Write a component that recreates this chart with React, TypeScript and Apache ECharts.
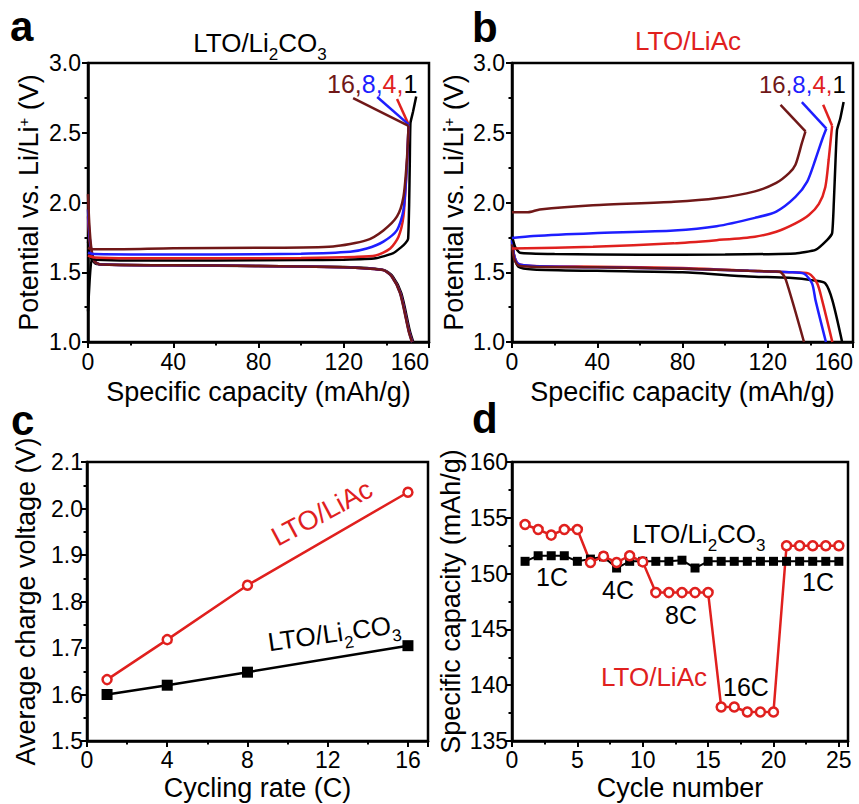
import React, { useEffect, useRef } from 'react';
import * as echarts from 'echarts';

const FONT = '"Liberation Sans", Arial, Helvetica, sans-serif';
const BLACK = '#000000';
const RED = '#e0201e';
const BLUE = '#1e1eff';
const DARK = '#701818';

// ---------- Panel a : LTO/Li2CO3 charge / discharge (x: mAh/g, y: V) ----------
const aCharge1C = [[0, 1.22], [0.8, 1.45], [1.8, 1.6], [4, 1.59], [20, 1.585], [60, 1.585], [100, 1.587], [120, 1.59], [135, 1.6], [143, 1.635], [147, 1.68], [149, 1.71], [150.2, 1.74], [150.7, 2.0], [151, 2.3], [151.3, 2.57], [152.5, 2.65], [154, 2.76]];
const aCharge4C = [[0, 1.62], [3, 1.605], [20, 1.6], [60, 1.6], [100, 1.603], [125, 1.61], [135, 1.62], [141.8, 1.67], [145.7, 1.755], [148, 1.9], [149.6, 2.26], [150.4, 2.55]];
const aCharge8C = [[0, 1.64], [3, 1.63], [20, 1.628], [60, 1.628], [100, 1.633], [123, 1.647], [130.8, 1.67], [138.6, 1.72], [144.9, 1.8], [148, 1.945], [149.6, 2.26], [150.4, 2.56]];
const aCharge16C = [[0, 1.675], [2, 1.665], [10, 1.665], [40, 1.672], [80, 1.675], [115, 1.685], [130.8, 1.73], [138.6, 1.8], [145, 1.9], [148, 2.04], [149.6, 2.3], [150.4, 2.55]];
const aLead4C = [[150.4, 2.56], [145, 2.742]];
const aLead8C = [[150.4, 2.56], [135.7, 2.756]];
const aLead16C = [[150.4, 2.55], [124.4, 2.749]];
const aDisch1C = [[0, 1.72], [1.5, 1.6], [4, 1.56], [40, 1.55], [80, 1.545], [120, 1.537], [131, 1.53], [139, 1.515], [143, 1.47], [147, 1.35], [151, 1.08], [152.6, 1.0]];
const aDisch4C = [[0, 1.9], [1, 1.7], [3, 1.58], [6, 1.555], [40, 1.55], [80, 1.545], [120, 1.535], [131, 1.527], [138.6, 1.515], [142.6, 1.47], [146.6, 1.35], [150.6, 1.08], [152.2, 1.0]];
const aDisch8C = [[0, 1.95], [1, 1.72], [3, 1.58], [6, 1.555], [40, 1.55], [80, 1.545], [120, 1.535], [131, 1.527], [138.6, 1.515], [142.5, 1.47], [146.5, 1.35], [150.5, 1.08], [152.1, 1.0]];
const aDisch16C = [[0, 2.06], [0.6, 1.85], [1.5, 1.68], [3, 1.58], [6, 1.555], [40, 1.55], [80, 1.545], [120, 1.535], [131, 1.527], [138.6, 1.515], [142.5, 1.47], [146.4, 1.35], [150.4, 1.08], [152, 1.0]];

// ---------- Panel b : LTO/LiAc charge / discharge ----------
const bCharge1C = [[0, 1.76], [1.5, 1.68], [3.7, 1.64], [20, 1.63], [60, 1.625], [100, 1.627], [133, 1.635], [142.4, 1.66], [147.8, 1.73], [150.2, 1.78], [151, 2.0], [151.8, 2.3], [152.5, 2.52], [154, 2.6], [155.6, 2.72]];
const bCharge4C = [[0, 1.67], [38, 1.683], [76, 1.707], [96, 1.73], [114, 1.755], [124, 1.79], [133, 1.85], [139.3, 1.91], [144, 1.99], [147, 2.11], [148.6, 2.31], [150.2, 2.55]];
const bCharge8C = [[0, 1.745], [10, 1.76], [38, 1.78], [76, 1.8], [96, 1.83], [114, 1.89], [124, 1.935], [133, 2.04], [138.5, 2.15], [142.4, 2.31], [145.5, 2.45], [147.5, 2.53]];
const bCharge16C = [[0, 1.93], [7.5, 1.93], [13, 1.95], [38, 1.98], [76, 2.005], [96, 2.03], [114, 2.08], [124, 2.14], [130, 2.21], [133, 2.27], [136, 2.425], [137.7, 2.51]];
const bLead4C = [[150.2, 2.55], [146, 2.7]];
const bLead8C = [[147.5, 2.53], [136, 2.72]];
const bLead16C = [[137.7, 2.51], [126, 2.7]];
const bDisch1C = [[0, 1.76], [1, 1.62], [3, 1.54], [10, 1.52], [40, 1.51], [80, 1.5], [111, 1.47], [130, 1.46], [142, 1.44], [147, 1.42], [150.3, 1.3], [154.9, 1.0]];
const bDisch4C = [[0, 1.72], [1, 1.62], [3, 1.56], [10, 1.545], [40, 1.54], [80, 1.53], [111, 1.51], [130, 1.5], [139.3, 1.49], [143.2, 1.42], [145.5, 1.3], [150.3, 1.0]];
const bDisch8C = [[0, 1.73], [1, 1.62], [3, 1.56], [10, 1.545], [40, 1.535], [80, 1.525], [111, 1.51], [130, 1.5], [137, 1.49], [140.8, 1.42], [142.4, 1.3], [147.3, 1.0]];
const bDisch16C = [[0, 1.7], [1, 1.6], [3, 1.55], [10, 1.54], [40, 1.535], [80, 1.525], [111, 1.51], [124, 1.505], [126.2, 1.5], [128.5, 1.445], [137, 1.0]];

// ---------- Panel c : average charge voltage vs rate ----------
const cRates = [1, 4, 8, 16];
const cLiAc = [1.632, 1.718, 1.835, 2.035];
const cLi2CO3 = [1.6, 1.62, 1.648, 1.705];

// ---------- Panel d : capacity vs cycle ----------
const dCycles = [1, 2, 3, 4, 5, 6, 7, 8, 9, 10, 11, 12, 13, 14, 15, 16, 17, 18, 19, 20, 21, 22, 23, 24, 25];
const dLi2CO3 = [151.1, 151.6, 151.6, 151.6, 151.1, 151.3, 151.5, 150.5, 151.1, 151.1, 151.1, 151.1, 151.2, 150.5, 151.1, 151.1, 151.1, 151.1, 151.1, 151.1, 151.1, 151.1, 151.1, 151.1, 151.1];
const dLiAc = [154.4, 153.95, 153.45, 153.95, 153.95, 151.0, 151.55, 151.0, 151.6, 151.05, 148.3, 148.3, 148.3, 148.3, 148.3, 138.05, 138.05, 137.6, 137.6, 137.6, 152.5, 152.5, 152.5, 152.5, 152.5];

const zip = (xs: number[], ys: number[]) => xs.map((x, i) => [x, ys[i]]);

function axis(gridIndex: number, min: number, max: number, interval: number, name: any, nameGap: number, margin: number, isY: boolean, digits: number, rich?: any) {
  return {
    type: 'value',
    gridIndex,
    min,
    max,
    interval,
    name,
    nameLocation: 'middle',
    nameGap,
    nameMoveOverlap: false,
    nameTextStyle: { fontSize: 27, fontFamily: FONT, color: BLACK, rich },
    axisLine: { show: true, onZero: false, lineStyle: { color: BLACK, width: 2.5 } },
    axisTick: { show: true, inside: false, length: 6, lineStyle: { color: BLACK, width: 2 } },
    minorTick: { show: true, splitNumber: 2, length: 3.5, lineStyle: { color: BLACK, width: 2 } },
    axisLabel: {
      fontSize: 23,
      fontFamily: FONT,
      color: BLACK,
      margin,
      showMaxLabel: isY ? true : (max % interval === 0),
      alignMaxLabel: (!isY && max % interval === 0) ? 'right' : undefined,
      hideOverlap: false,
      formatter: (v: number) => v.toFixed(digits),
    },
    splitLine: { show: false },
    minorSplitLine: { show: false },
  };
}

const supRich = {
  n: { fontSize: 27, lineHeight: 27, fontFamily: FONT, color: BLACK, verticalAlign: 'top' },
  s: { fontSize: 15, lineHeight: 15, fontFamily: FONT, color: BLACK, verticalAlign: 'top', padding: [1, 0, 0, 0] },
};

function curve(xi: number, data: number[][], color: string, smooth: any = 0.25) {
  return {
    type: 'line',
    xAxisIndex: xi,
    yAxisIndex: xi,
    data,
    showSymbol: false,
    symbol: 'none',
    smooth,
    lineStyle: { color, width: 2.5 },
    itemStyle: { color },
    silent: true,
  };
}

function subText(mainSize: number, subSize: number, color: string) {
  return {
    m: { fontSize: mainSize, lineHeight: mainSize, fontFamily: FONT, fill: color, color, verticalAlign: 'top' },
    s: { fontSize: subSize, lineHeight: subSize, fontFamily: FONT, fill: color, color, verticalAlign: 'top', padding: [16, 0, 0, 0] },
  };
}

export default function App() {
  const ref = useRef<HTMLDivElement>(null);
  useEffect(() => {
    if (!ref.current) return;
    const chart = echarts.init(ref.current, undefined, { renderer: 'svg' });
    const gridBase = { show: true, borderColor: BLACK, borderWidth: 2.5, containLabel: false, outerBoundsMode: 'none', backgroundColor: 'transparent' };
    const option: any = {
      animation: false,
      backgroundColor: '#ffffff',
      grid: [
        { ...gridBase, left: 88, top: 63, width: 341, height: 279 },
        { ...gridBase, left: 512, top: 63, width: 341, height: 279 },
        { ...gridBase, left: 87, top: 462, width: 341, height: 279 },
        { ...gridBase, left: 512, top: 462, width: 336, height: 279 },
      ],
      xAxis: [
        axis(0, 0, 160, 40, 'Specific capacity (mAh/g)', 36, 8, false, 0),
        axis(1, 0, 160, 40, 'Specific capacity (mAh/g)', 36, 8, false, 0),
        axis(2, 0, 17, 4, 'Cycling rate (C)', 33, 7, false, 0),
        axis(3, 0, 25.7, 5, 'Cycle number', 33, 7, false, 0),
      ],
      yAxis: [
        axis(0, 1.0, 3.0, 0.5, '{n|Potential vs. Li/Li}{s|+}{n| (V)}', 46, 7, true, 1, supRich),
        axis(1, 1.0, 3.0, 0.5, '{n|Potential vs. Li/Li}{s|+}{n| (V)}', 45, 7, true, 1, supRich),
        axis(2, 1.5, 2.1, 0.1, 'Average charge voltage (V)', 48, 4, true, 1),
        axis(3, 135, 160, 5, 'Specific capacity (mAh/g)', 48, 4, true, 0),
      ],
      series: [
        // panel a
        curve(0, aDisch1C, BLACK),
        curve(0, aDisch4C, RED),
        curve(0, aDisch8C, BLUE),
        curve(0, aDisch16C, DARK),
        curve(0, aCharge1C, BLACK, 0.15),
        curve(0, aCharge4C, RED),
        curve(0, aCharge8C, BLUE),
        curve(0, aCharge16C, DARK),
        curve(0, aLead4C, RED, false),
        curve(0, aLead8C, BLUE, false),
        curve(0, aLead16C, DARK, false),
        // panel b
        curve(1, bDisch1C, BLACK),
        curve(1, bDisch4C, RED),
        curve(1, bDisch8C, BLUE),
        curve(1, bDisch16C, DARK),
        curve(1, bCharge1C, BLACK, 0.15),
        curve(1, bCharge4C, RED),
        curve(1, bCharge8C, BLUE),
        curve(1, bCharge16C, DARK),
        curve(1, bLead4C, RED, false),
        curve(1, bLead8C, BLUE, false),
        curve(1, bLead16C, DARK, false),
        // panel c
        {
          type: 'line', xAxisIndex: 2, yAxisIndex: 2, data: zip(cRates, cLi2CO3),
          symbol: 'rect', symbolSize: 11, lineStyle: { color: BLACK, width: 2.5 }, itemStyle: { color: BLACK },
        },
        {
          type: 'line', xAxisIndex: 2, yAxisIndex: 2, data: zip(cRates, cLiAc),
          symbol: 'circle', symbolSize: 9, lineStyle: { color: RED, width: 2.5 },
          itemStyle: { color: '#ffffff', borderColor: RED, borderWidth: 2.5 },
        },
        // panel d
        {
          type: 'line', xAxisIndex: 3, yAxisIndex: 3, data: zip(dCycles, dLi2CO3),
          symbol: 'rect', symbolSize: 9, lineStyle: { color: BLACK, width: 2 }, itemStyle: { color: BLACK },
        },
        {
          type: 'line', xAxisIndex: 3, yAxisIndex: 3, data: zip(dCycles, dLiAc),
          symbol: 'circle', symbolSize: 9, lineStyle: { color: RED, width: 2.5 },
          itemStyle: { color: '#ffffff', borderColor: RED, borderWidth: 2.5 },
        },
      ],
      graphic: [
        { type: 'text', x: 10, y: 26, style: { text: 'a', fontSize: 42, fontWeight: 'bold', fontFamily: FONT, fill: BLACK, align: 'left', verticalAlign: 'middle' } },
        { type: 'text', x: 472, y: 27, style: { text: 'b', fontSize: 42, fontWeight: 'bold', fontFamily: FONT, fill: BLACK, align: 'left', verticalAlign: 'middle' } },
        { type: 'text', x: 11, y: 420, style: { text: 'c', fontSize: 42, fontWeight: 'bold', fontFamily: FONT, fill: BLACK, align: 'left', verticalAlign: 'middle' } },
        { type: 'text', x: 472, y: 418, style: { text: 'd', fontSize: 42, fontWeight: 'bold', fontFamily: FONT, fill: BLACK, align: 'left', verticalAlign: 'middle' } },
        // panel titles
        { type: 'text', x: 260, y: 29.5, style: { text: '{m|LTO/Li}{s|2}{m|CO}{s|3}', rich: subText(26, 17, BLACK), align: 'center', verticalAlign: 'top' } },
        { type: 'text', x: 688, y: 41, style: { text: 'LTO/LiAc', fontSize: 26, fontFamily: FONT, fill: RED, align: 'center', verticalAlign: 'middle' } },
        // rate labels
        {
          type: 'text', x: 327, y: 84,
          style: {
            text: '{d|16,}{b|8,}{r|4,}{k|1}', align: 'left', verticalAlign: 'middle',
            rich: {
              d: { fontSize: 25, fontFamily: FONT, fill: DARK, color: DARK },
              b: { fontSize: 25, fontFamily: FONT, fill: BLUE, color: BLUE },
              r: { fontSize: 25, fontFamily: FONT, fill: RED, color: RED },
              k: { fontSize: 25, fontFamily: FONT, fill: BLACK, color: BLACK },
            },
          },
        },
        {
          type: 'text', x: 759, y: 84,
          style: {
            text: '{d|16,}{b|8,}{r|4,}{k|1}', align: 'left', verticalAlign: 'middle',
            rich: {
              d: { fontSize: 24, fontFamily: FONT, fill: DARK, color: DARK },
              b: { fontSize: 24, fontFamily: FONT, fill: BLUE, color: BLUE },
              r: { fontSize: 24, fontFamily: FONT, fill: RED, color: RED },
              k: { fontSize: 24, fontFamily: FONT, fill: BLACK, color: BLACK },
            },
          },
        },
        // panel c annotations
        { type: 'text', x: 322, y: 513, rotation: 0.49, style: { text: 'LTO/LiAc', fontSize: 27, fontFamily: FONT, fill: RED, align: 'center', verticalAlign: 'middle' } },
        { type: 'text', x: 334, y: 633, rotation: 0.14, style: { text: '{m|LTO/Li}{s|2}{m|CO}{s|3}', rich: subText(26, 17, BLACK), align: 'center', verticalAlign: 'middle' } },
        // panel d annotations
        { type: 'text', x: 632, y: 521, style: { text: '{m|LTO/Li}{s|2}{m|CO}{s|3}', rich: subText(26, 17, BLACK), align: 'left', verticalAlign: 'top' } },
        { type: 'text', x: 552, y: 577, style: { text: '1C', fontSize: 25, fontFamily: FONT, fill: BLACK, align: 'center', verticalAlign: 'middle' } },
        { type: 'text', x: 618, y: 590, style: { text: '4C', fontSize: 25, fontFamily: FONT, fill: BLACK, align: 'center', verticalAlign: 'middle' } },
        { type: 'text', x: 681, y: 615, style: { text: '8C', fontSize: 25, fontFamily: FONT, fill: BLACK, align: 'center', verticalAlign: 'middle' } },
        { type: 'text', x: 654, y: 677, style: { text: 'LTO/LiAc', fontSize: 26, fontFamily: FONT, fill: RED, align: 'center', verticalAlign: 'middle' } },
        { type: 'text', x: 746, y: 687, style: { text: '16C', fontSize: 25, fontFamily: FONT, fill: BLACK, align: 'center', verticalAlign: 'middle' } },
        { type: 'text', x: 818, y: 582, style: { text: '1C', fontSize: 25, fontFamily: FONT, fill: BLACK, align: 'center', verticalAlign: 'middle' } },
      ],
    };
    chart.setOption(option);
    return () => chart.dispose();
  }, []);
  return <div ref={ref} style={{ position: 'fixed', left: 0, top: 0, width: 859, height: 804, background: '#fff' }} />;
}
